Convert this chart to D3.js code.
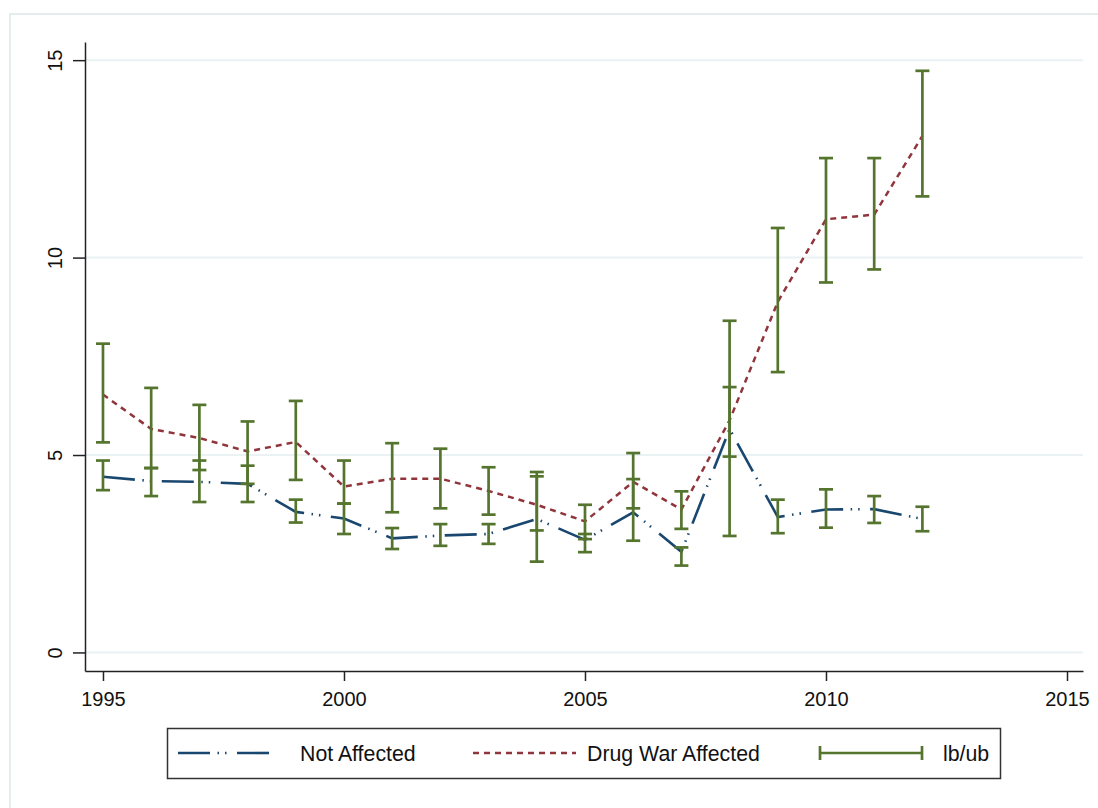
<!DOCTYPE html>
<html>
<head>
<meta charset="utf-8">
<script src="https://cdn.jsdelivr.net/npm/d3@7"></script>
<style>
  html, body { margin: 0; padding: 0; background: #ffffff; }
  svg { display: block; }
  text { font-family: "Liberation Sans", Arial, sans-serif; fill: #111; }
</style>
</head>
<body>
<svg id="chart" width="1098" height="808"></svg>
<script>
// Annual rates by group, with lower/upper bounds for each group
const years = [1995, 1996, 1997, 1998, 1999, 2000, 2001, 2002, 2003,
               2004, 2005, 2006, 2007, 2008, 2009, 2010, 2011, 2012];

const notAffected   = [4.45, 4.34, 4.32, 4.27, 3.56, 3.39, 2.89, 2.96, 3.00,
                       3.38, 2.85, 3.55, 2.55, 5.66, 3.43, 3.62, 3.63, 3.38];
const notAffectedLb = [4.11, 3.96, 3.81, 3.81, 3.29, 3.00, 2.62, 2.70, 2.75,
                       2.30, 2.54, 2.83, 2.20, 4.96, 3.02, 3.16, 3.28, 3.07];
const notAffectedUb = [4.86, 4.67, 4.86, 4.73, 3.87, 3.77, 3.15, 3.25, 3.25,
                       4.57, 3.00, 4.39, 2.66, 6.72, 3.87, 4.13, 3.96, 3.69];

const drugWar   = [6.53, 5.66, 5.43, 5.09, 5.33, 4.20, 4.40, 4.40, 4.09,
                   3.74, 3.32, 4.32, 3.62, 5.88, 8.88, 10.97, 11.09, 13.08];
const drugWarLb = [5.32, 4.67, 4.62, 4.27, 4.37, 3.77, 3.55, 3.65, 3.49,
                   3.09, 2.87, 3.65, 3.13, 2.95, 7.10, 9.37, 9.70, 11.55];
const drugWarUb = [7.82, 6.70, 6.27, 5.85, 6.37, 4.86, 5.30, 5.16, 4.69,
                   4.46, 3.74, 5.05, 4.08, 8.40, 10.75, 12.52, 12.52, 14.73];

const xTicks = [1995, 2000, 2005, 2010, 2015];
const yTicks = [0, 5, 10, 15];

const seriesNames = ["Not Affected", "Drug War Affected", "lb/ub"];

const colors = { navy: "#1a476f", maroon: "#90353b", green: "#55752f",
                 grid: "#eaf2f3", frame: "#e4ecee", axis: "#222" };

const svg = d3.select("#chart");

// outer graph-region frame
svg.append("rect")
  .attr("x", 10).attr("y", 14)
  .attr("width", 1200).attr("height", 900)
  .attr("fill", "#fff")
  .attr("stroke", colors.frame).attr("stroke-width", 2);

const x = d3.scaleLinear().domain([1994.627, 2015.332]).range([85, 1083]);
const y = d3.scaleLinear().domain([-0.47, 15.46]).range([671, 42]);

// horizontal grid lines
svg.append("g").selectAll("line").data(yTicks).join("line")
  .attr("x1", 86).attr("x2", 1083)
  .attr("y1", d => y(d)).attr("y2", d => y(d))
  .attr("stroke", colors.grid).attr("stroke-width", 2);

// x axis
const xAxis = svg.append("g")
  .attr("transform", `translate(0,${y(-0.47)})`)
  .call(d3.axisBottom(x).tickValues(xTicks).tickFormat(d3.format("d"))
        .tickSizeInner(10).tickSizeOuter(0).tickPadding(11));
xAxis.select(".domain").attr("stroke", colors.axis).attr("stroke-width", 1.5);
xAxis.selectAll(".tick line").attr("stroke", colors.axis).attr("stroke-width", 1.5);
xAxis.selectAll(".tick text").attr("font-size", 20)
  .attr("font-family", "Liberation Sans, Arial, sans-serif").attr("fill", "#111");

// y axis with vertical labels
const yAxis = svg.append("g")
  .attr("transform", `translate(${x(1994.627)},0)`)
  .call(d3.axisLeft(y).tickValues(yTicks).tickSizeInner(12).tickSizeOuter(0));
yAxis.select(".domain").attr("stroke", colors.axis).attr("stroke-width", 1.5);
yAxis.selectAll(".tick line").attr("stroke", colors.axis).attr("stroke-width", 1.5);
yAxis.selectAll(".tick text")
  .attr("x", null).attr("dy", null)
  .attr("transform", "translate(-23,0) rotate(-90)")
  .attr("text-anchor", "middle")
  .attr("font-size", 20)
  .attr("font-family", "Liberation Sans, Arial, sans-serif").attr("fill", "#111");

// series lines
const line = d3.line().x((d, i) => x(years[i])).y(d => y(d));

svg.append("path").datum(notAffected)
  .attr("d", line).attr("fill", "none")
  .attr("stroke", colors.navy).attr("stroke-width", 2.6)
  .attr("stroke-dasharray", "32,7.5,1.5,6,1.5,10.5");

svg.append("path").datum(drugWar)
  .attr("d", line).attr("fill", "none")
  .attr("stroke", colors.maroon).attr("stroke-width", 2.5)
  .attr("stroke-dasharray", "6,5");

// range caps for both groups
const capHalf = 7;
function drawCaps(lb, ub) {
  const g = svg.append("g").attr("stroke", colors.green).attr("stroke-width", 2.7)
    .attr("fill", "none");
  years.forEach((yr, i) => {
    const cx = x(yr);
    g.append("line").attr("x1", cx).attr("x2", cx)
      .attr("y1", y(lb[i])).attr("y2", y(ub[i]));
    g.append("line").attr("x1", cx - capHalf).attr("x2", cx + capHalf)
      .attr("y1", y(lb[i])).attr("y2", y(lb[i]));
    g.append("line").attr("x1", cx - capHalf).attr("x2", cx + capHalf)
      .attr("y1", y(ub[i])).attr("y2", y(ub[i]));
  });
}
drawCaps(notAffectedLb, notAffectedUb);
drawCaps(drugWarLb, drugWarUb);

// legend
const legend = svg.append("g");
legend.append("rect")
  .attr("x", 167.5).attr("y", 728.5).attr("width", 833).attr("height", 50)
  .attr("fill", "#fff").attr("stroke", "#333").attr("stroke-width", 1.5);

const ly = 753;
legend.append("line").attr("x1", 178).attr("x2", 269).attr("y1", ly).attr("y2", ly)
  .attr("stroke", colors.navy).attr("stroke-width", 2.6)
  .attr("stroke-dasharray", "32,7.5,1.5,6,1.5,10.5");
legend.append("line").attr("x1", 473).attr("x2", 576).attr("y1", ly).attr("y2", ly)
  .attr("stroke", colors.maroon).attr("stroke-width", 2.5)
  .attr("stroke-dasharray", "6,5");
const lg = legend.append("g").attr("stroke", colors.green).attr("stroke-width", 2.7);
lg.append("line").attr("x1", 820).attr("x2", 922).attr("y1", ly).attr("y2", ly);
lg.append("line").attr("x1", 820).attr("x2", 820).attr("y1", ly - 7).attr("y2", ly + 7);
lg.append("line").attr("x1", 922).attr("x2", 922).attr("y1", ly - 7).attr("y2", ly + 7);

const labelX = [300, 587, 943];
legend.selectAll("text.lbl").data(seriesNames).join("text")
  .attr("class", "lbl")
  .attr("x", (d, i) => labelX[i]).attr("y", ly + 7.5)
  .attr("font-size", 21.3)
  .text(d => d);
</script>
</body>
</html>
